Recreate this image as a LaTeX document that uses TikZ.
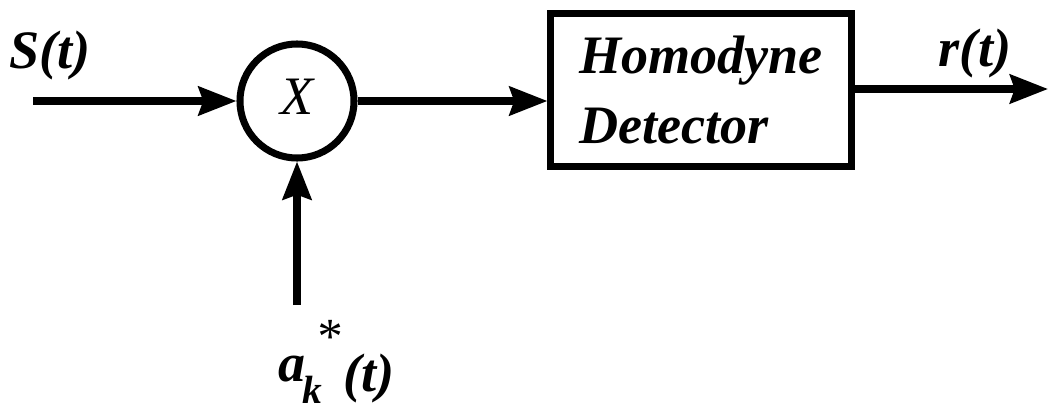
\documentclass[tikz,border=0pt]{standalone}
\usepackage{amsmath}
\usepackage{fontspec}
\setmainfont{Liberation Serif}
\usetikzlibrary{arrows.meta, positioning}

\begin{document}
\begin{tikzpicture}[x=0.025cm, y=-0.025cm, >={Stealth[length=0.95cm, width=0.72cm, inset=0.12cm]},
  every node/.style={font=\fontsize{38.5}{50}\selectfont\bfseries\itshape},
  sig/.style={->, line width=5pt}]
\useasboundingbox (0,0) rectangle (1049,414);
\node[draw, circle, line width=5pt, minimum size=2.85cm, inner sep=0pt] (mult) at (297,101) {\raisebox{0.15em}{\mdseries X}};
\node[draw, rectangle, line width=5pt, align=left, minimum width=7.5cm, minimum height=3.83cm] (det) at (701,90) {Homodyne\\Detector};
\coordinate (in) at (33,101);
\coordinate (out) at (1048,89);
\coordinate (lo) at (297,305);
\node (s) at (50,55) {S(t)};
\node (r) at (975,53) {r(t)};
\node[anchor=base west, inner sep=0pt] (ak) at (278,381) {a\kern-0.05em\raisebox{-0.42em}{\fontsize{28}{28}\selectfont k}\kern-0.12em\raisebox{0.5em}{\fontsize{36}{36}\selectfont\mdseries *}\kern0.05em\raisebox{-0.2em}{(t)}};

\draw[sig] (in) -- (mult);
\draw[sig] (mult) -- (mult -| det.west);
\draw[sig] (det.east |- out) -- (out);
\draw[sig] (lo) -- (mult);
\end{tikzpicture}
\end{document}
